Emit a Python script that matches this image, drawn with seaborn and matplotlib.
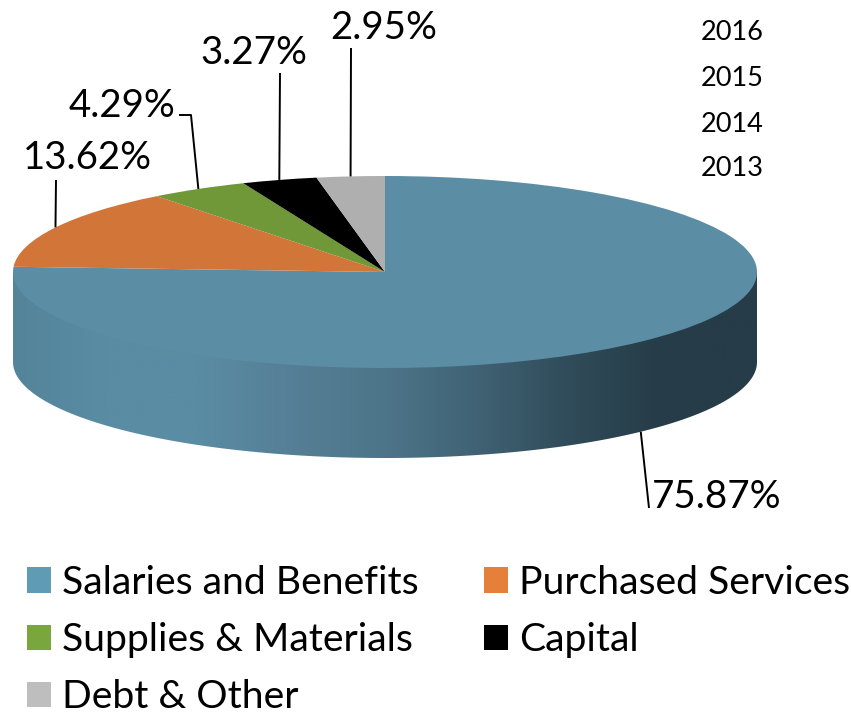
import numpy as np
import matplotlib
matplotlib.use("Agg")
import matplotlib.pyplot as plt
from matplotlib.patches import Patch, Polygon
import seaborn as sns

# Data
categories = ['Salaries and Benefits', 'Purchased Services', 'Supplies & Materials', 'Capital', 'Debt & Other']
shares = [75.87, 13.62, 4.29, 3.27, 2.95]
years = ['2016', '2015', '2014', '2013']

top_colors = ['#5b8da5', '#d27539', '#709738', '#000000', '#afafaf']
legend_colors = ['#5f9cb4', '#e67f3a', '#7aa63e', '#000000', '#bebebe']
wall_colors = ['#53849a', '#5a8ca4', '#5a8ca4', '#557f96', '#4d7589', '#406274', '#304b59', '#263c48', '#263c48']

sns.set_theme(style="white")
plt.rcParams['font.family'] = ['Lato', 'DejaVu Sans']

W, H = 851, 719
CX, CY, RX, RY, DEPTH = 385, 272, 372, 96, 90


def px(x, y):
    # picture pixels to pie units
    return (x - CX) / RX, (CY - y) / RY


fig = plt.figure(figsize=(W / 100, H / 100), dpi=100)
ax = fig.add_axes([0, 0, 1, 1])

# top face
wedges, _ = ax.pie(shares, colors=top_colors, startangle=90, counterclock=False,
                   radius=1, wedgeprops={'linewidth': 0, 'zorder': 3})

# side wall, shaded left to right; runs up under the top face so no seam shows
depth = DEPTH / RY
t = np.linspace(np.pi, 2 * np.pi, 300)
wall_x = np.concatenate([np.cos(t), [1, -1]])
wall_y = np.concatenate([np.sin(t) - depth, [0, 0]])
wall = Polygon(np.column_stack([wall_x, wall_y]), closed=True, facecolor='none', edgecolor='none',
               transform=ax.transData)
ax.add_patch(wall)
cmap = sns.blend_palette(wall_colors, as_cmap=True)
img = ax.imshow(np.linspace(0, 1, 256).reshape(1, -1), cmap=cmap, extent=(-1, 1, -1 - depth, 1),
                aspect='auto', zorder=1)
img.set_clip_path(wall)

ax.set_aspect('auto')
ax.set_xlim(*[px(0, 0)[0], px(W, 0)[0]])
ax.set_ylim(px(0, H)[1], px(0, 0)[1])
ax.axis('off')

# leader lines start at the middle of each slice
label_pos = [(717, 497), (87, 158), (122, 106), (254, 53), (384, 28)]
leader_ends = [[(649, 508)], [(56, 180)], [(191, 115), (179, 115)], [(280, 73)], [(351, 48)]]
start = 90
for share, pos, ends in zip(shares, label_pos, leader_ends):
    mid = np.radians(start - share * 3.6 / 2)
    start -= share * 3.6
    x0, y0 = np.cos(mid), np.sin(mid)
    if y0 < 0:
        y0 -= depth
    pts = [(x0, y0)] + [px(*e) for e in ends]
    ax.plot([p[0] for p in pts], [p[1] for p in pts], color='black', lw=1.4, zorder=4, solid_capstyle='butt')
    lx, ly = px(*pos)
    ax.text(lx, ly, f'{share:.2f}%', fontsize=27.7, color='black', ha='center', va='center')

for year, y in zip(years, [33, 78, 124, 169]):
    lx, ly = px(732.5, y)
    ax.text(lx, ly, year, fontsize=19.5, color='black', ha='center', va='center')

# legend fills columns first, so reorder to read across the rows
order = [0, 2, 4, 1, 3]
handles = [Patch(facecolor=legend_colors[i], edgecolor='none', label=categories[i]) for i in order]
fig.legend(handles=handles, ncol=2, frameon=False, fontsize=28.2, labelcolor='black', loc='upper left',
           bbox_to_anchor=(15 / W, 1 - 553 / H), handlelength=0.61, handleheight=0.61,
           handletextpad=0.28, labelspacing=0.54, columnspacing=1.68, borderpad=0.3, borderaxespad=0)

plt.savefig("out.png", dpi=100)
